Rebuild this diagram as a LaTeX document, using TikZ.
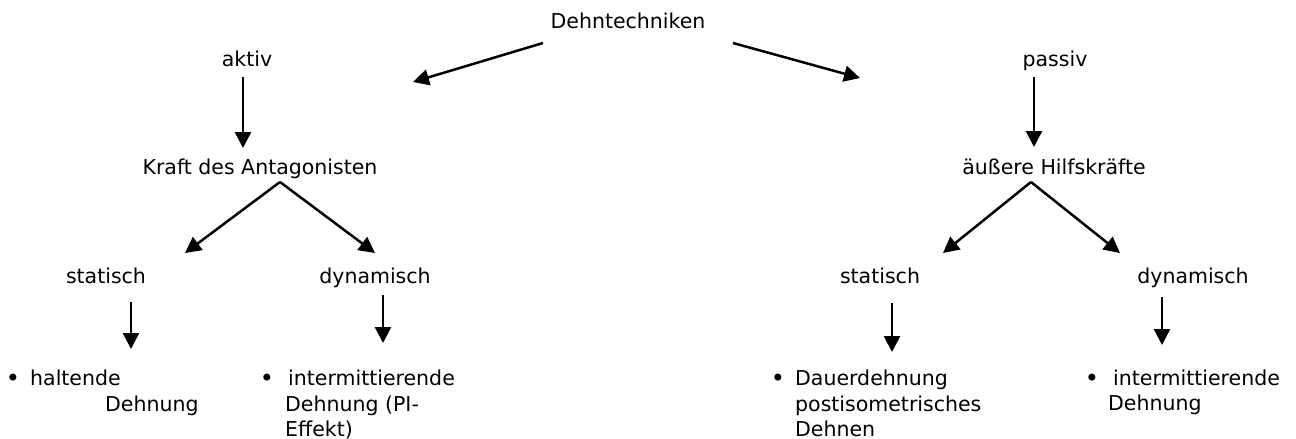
\documentclass[tikz,border=0pt]{standalone}
\usepackage{fontspec}
\setmainfont{DejaVu Sans}
\usetikzlibrary{arrows.meta}
\tikzset{
  lbl/.style={font=\fontsize{20.5}{25}\selectfont, inner sep=0pt, anchor=base},
  lft/.style={font=\fontsize{20.5}{25}\selectfont, inner sep=0pt, anchor=base west},
  bul/.style={font=\fontsize{24}{25}\selectfont, inner sep=0pt, anchor=base},
  arr/.style={line width=2.5pt, -{Triangle[length=16pt,width=16pt]}}
}
\begin{document}
\begin{tikzpicture}[x=1pt,y=-1pt]
\useasboundingbox (0,0) rectangle (1296,439);
% main labels
\node[lbl] (root) at (628,28) {Dehntechniken};
\node[lbl] (aktiv) at (247,66) {aktiv};
\node[lbl] (passiv) at (1055,66) {passiv};
\node[lbl] (kraft) at (260,174) {Kraft des Antagonisten};
\node[lbl] (hilf) at (1054,174) {äußere Hilfskräfte};
\node[lbl] (stL) at (106,283) {statisch};
\node[lbl] (dyL) at (375,283) {dynamisch};
\node[lbl] (stR) at (880,283) {statisch};
\node[lbl] (dyR) at (1193,283) {dynamisch};
% bullet items
\node[bul] (b1) at (13,386) {•};
\node[lft] (i1a) at (30,385) {haltende};
\node[lft] (i1b) at (105,411) {Dehnung};
\node[bul] (b2) at (267,386) {•};
\node[lft] (i2a) at (288,385) {intermittierende};
\node[lft] (i2b) at (285,411) {Dehnung (PI-};
\node[lft] (i2c) at (285,436) {Effekt)};
\node[bul] (b3) at (778,386) {•};
\node[lft] (i3a) at (795,385) {Dauerdehnung};
\node[lft] (i3b) at (795,411) {postisometrisches};
\node[lft] (i3c) at (795,436) {Dehnen};
\node[bul] (b4) at (1092,386) {•};
\node[lft] (i4a) at (1113,385) {intermittierende};
\node[lft] (i4b) at (1108,410) {Dehnung};
% connector end points
\coordinate (r1) at (543,43);  \coordinate (r1e) at (413,82);
\coordinate (r2) at (733,43);  \coordinate (r2e) at (860,78);
\coordinate (a1) at (243,77);  \coordinate (a1e) at (243,148);
\coordinate (p1) at (1034,77); \coordinate (p1e) at (1034,147);
\coordinate (k0) at (280,182); \coordinate (k1) at (185,253); \coordinate (k2) at (375,253);
\coordinate (h0) at (1031,182); \coordinate (h1) at (943,253); \coordinate (h2) at (1120,253);
\coordinate (s1) at (131,302); \coordinate (s1e) at (131,349);
\coordinate (d1) at (383,295); \coordinate (d1e) at (383,343);
\coordinate (s2) at (892,303); \coordinate (s2e) at (892,352);
\coordinate (d2) at (1162,297); \coordinate (d2e) at (1162,345);
% connectors
\draw[arr] (r1) -- (r1e);
\draw[arr] (r2) -- (r2e);
\draw[arr] (a1) -- (a1e);
\draw[arr] (p1) -- (p1e);
\draw[arr] (k0) -- (k1);
\draw[arr] (k0) -- (k2);
\draw[arr] (h0) -- (h1);
\draw[arr] (h0) -- (h2);
\draw[arr] (s1) -- (s1e);
\draw[arr] (d1) -- (d1e);
\draw[arr] (s2) -- (s2e);
\draw[arr] (d2) -- (d2e);
\end{tikzpicture}
\end{document}
